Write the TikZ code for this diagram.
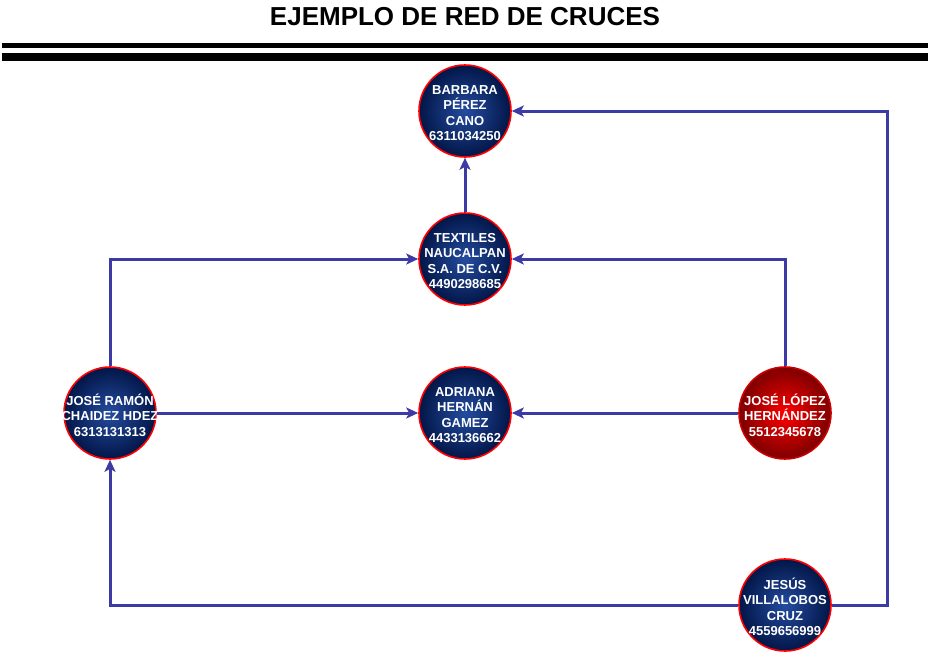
\documentclass[tikz,border=0pt]{standalone}
\usepackage{fontspec}
\setmainfont{Liberation Sans}
\usetikzlibrary{arrows.meta}

\definecolor{linkblue}{RGB}{60,58,165}
\definecolor{navyin}{RGB}{36,76,160}
\definecolor{navyout}{RGB}{2,22,72}
\definecolor{redin}{RGB}{255,0,0}
\definecolor{redout}{RGB}{125,0,0}

\tikzset{
    person/.style={circle, minimum size=92pt, inner sep=0pt, draw=red, line width=1.6pt,
        inner color=navyin, outer color=navyout,
        label={[text=white, align=center, inner sep=0pt, yshift=-2pt,
            font=\fontsize{13}{15.5}\selectfont\bfseries]center:#1}},
    target/.style={person=#1, draw=red!80!black, inner color=redin, outer color=redout},
    link/.style={draw=linkblue, line width=3pt, -{Stealth[length=12pt, width=11pt, inset=3pt]}},
}

\begin{document}
\begin{tikzpicture}[x=1pt, y=-1pt]
        \useasboundingbox (0, 0) rectangle (928, 656);

        \node[anchor=base, font=\fontsize{26}{30}\selectfont\bfseries] (title) at (465, 25.5) {EJEMPLO DE RED DE CRUCES};
        \draw[line width=4.4pt] (2, 45.5) -- (928, 45.5);
        \draw[line width=8pt] (2, 56.7) -- (928, 56.7);

        \node[person={BARBARA\\PÉREZ\\CANO\\6311034250}] (barbara) at (465, 111) {};
        \node[person={TEXTILES\\NAUCALPAN\\S.A. DE C.V.\\4490298685}] (textiles) at (465, 259) {};
        \node[person={ADRIANA\\HERNÁN\\GAMEZ\\4433136662}] (adriana) at (465, 413) {};
        \node[person={JOSÉ RAMÓN\\CHAIDEZ HDEZ\\6313131313}] (ramon) at (110, 413) {};
        \node[target={JOSÉ LÓPEZ\\HERNÁNDEZ\\5512345678}] (lopez) at (785, 413) {};
        \node[person={JESÚS\\VILLALOBOS\\CRUZ\\4559656999}] (jesus) at (785, 605) {};

        \coordinate (top right) at (887, 111);
        \coordinate (bottom right) at (887, 605);

        \draw[link] (textiles) -- (barbara);
        \draw[link] (ramon) |- (textiles);
        \draw[link] (lopez) |- (textiles);
        \draw[link] (ramon) -- (adriana);
        \draw[link] (lopez) -- (adriana);
        \draw[link, {Stealth[length=12pt, width=11pt, inset=3pt]}-] (barbara) -- (top right) -- (bottom right) -- (jesus);
        \draw[link, {Stealth[length=12pt, width=11pt, inset=3pt]}-] (ramon) |- (jesus);
    \end{tikzpicture}
\end{document}
